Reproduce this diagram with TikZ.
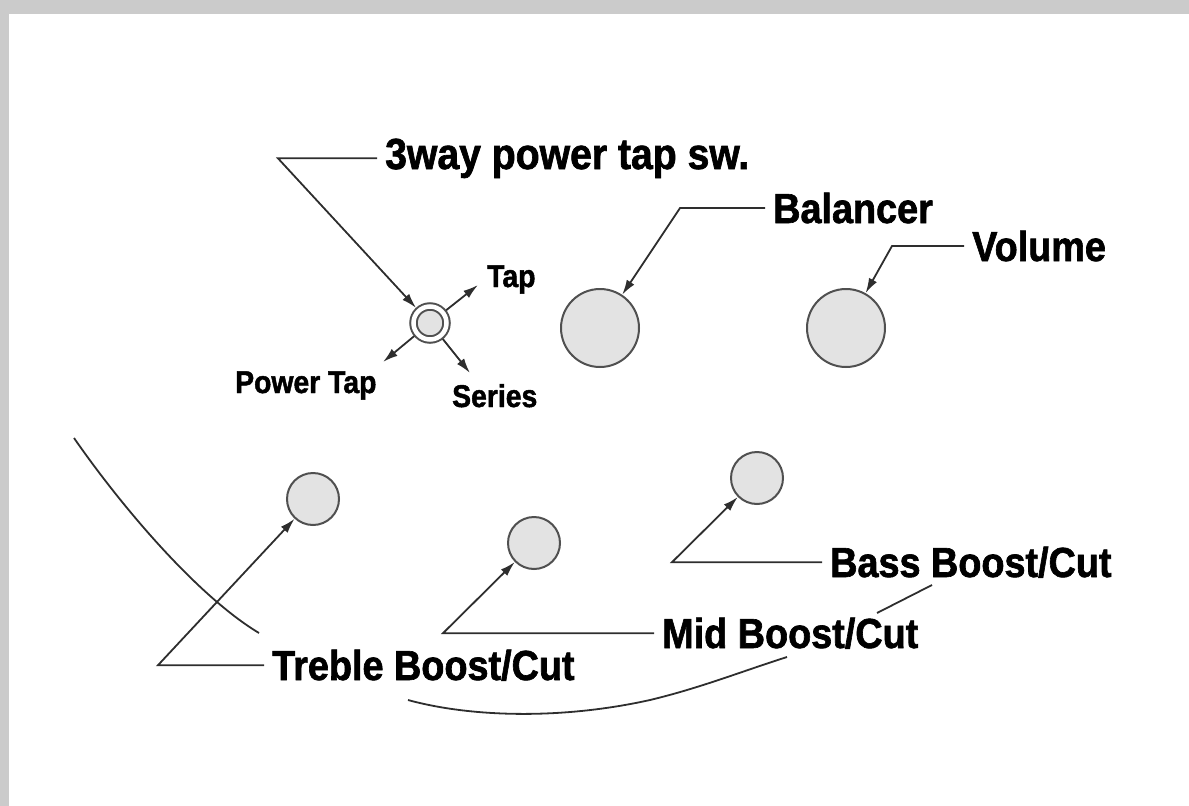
\documentclass[tikz,border=0pt]{standalone}
\usepackage{fontspec}
\newfontfamily\labelfont[FakeStretch=0.9,BoldFeatures={FakeBold=1.5}]{Liberation Sans}
\usetikzlibrary{arrows.meta}
\definecolor{frame}{HTML}{CBCBCB}
\definecolor{knobfill}{HTML}{E3E3E3}
\definecolor{knobline}{HTML}{505050}
\definecolor{inkline}{HTML}{2E2E2E}
\begin{document}
\begin{tikzpicture}[x=1pt,y=-1pt,
    knob/.style={circle,draw=knobline,fill=knobfill,line width=2pt,inner sep=0pt,minimum size=#1},
    big/.style={font=\labelfont\bfseries\fontsize{#1}{#1}\selectfont,inner xsep=8pt,inner ysep=0pt,anchor=base west},
    big/.default=42,
    small/.style={font=\labelfont\bfseries\fontsize{31.5}{32}\selectfont,inner sep=0pt,anchor=base west},
    lead/.style={draw=inkline,line width=1.8pt,-{Latex[length=15pt,width=9pt]}},
    body/.style={draw=inkline,line width=1.8pt}]
  \useasboundingbox (0,0) rectangle (1189,806);
  \fill[frame] (0,0) rectangle (1189,14);
  \fill[frame] (0,0) rectangle (9,806);
  \node[knob=33pt,double=white,double distance=4.5pt,outer sep=4pt] (sw) at (430,323) {};
  \node[knob=78pt] (bal) at (600,328) {};
  \node[knob=78pt] (vol) at (846,328) {};
  \node[knob=52pt] (tre) at (313,499) {};
  \node[knob=52pt] (mid) at (534,543) {};
  \node[knob=52pt] (bas) at (757,478) {};
  \node[big=43.5] (lsw) at (377,169) {3way power tap sw.};
  \node[big] (lbal) at (765,223) {Balancer};
  \node[big] (lvol) at (964,261) {Volume};
  \node[big] (lbas) at (822,577) {Bass Boost/Cut};
  \node[big] (lmid) at (654,648) {Mid Boost/Cut};
  \node[big] (ltre) at (264,680) {Treble Boost/Cut};
  \node[small] (ltap) at (487,287) {Tap};
  \node[small] (lpt) at (235,393) {Power Tap};
  \node[small] (lser) at (452,407) {Series};
  \coordinate (ptap) at (478,285);
  \coordinate (ppt) at (383,362);
  \coordinate (pser) at (470,373);
  \coordinate (esw) at (278,159);
  \coordinate (ebal) at (680,209);
  \coordinate (evol) at (892,243);
  \coordinate (ebas) at (672,563);
  \coordinate (emid) at (443,634);
  \coordinate (etre) at (158,663);
  \draw[lead] (lsw.west) -- (lsw.west -| esw) -- (sw);
  \draw[lead] (lbal.west) -- (lbal.west -| ebal) -- (bal);
  \draw[lead] (lvol.west) -- (lvol.west -| evol) -- (vol);
  \draw[lead] (lbas.west) -- (lbas.west -| ebas) -- (bas);
  \draw[lead] (lmid.west) -- (lmid.west -| emid) -- (mid);
  \draw[lead] (ltre.west) -- (ltre.west -| etre) -- (tre);
  \draw[lead] (sw) -- (ptap);
  \draw[lead] (sw) -- (ppt);
  \draw[lead] (sw) -- (pser);
  \draw[body] (74,438) .. controls (124,510) and (199,597) .. (259,633);
  \draw[body] (408,700) .. controls (470,717) and (560,720) .. (650,700)
    .. controls (700,688) and (740,672) .. (787,657);
  \draw[body] (877,613) -- (932,585);
\end{tikzpicture}
\end{document}
